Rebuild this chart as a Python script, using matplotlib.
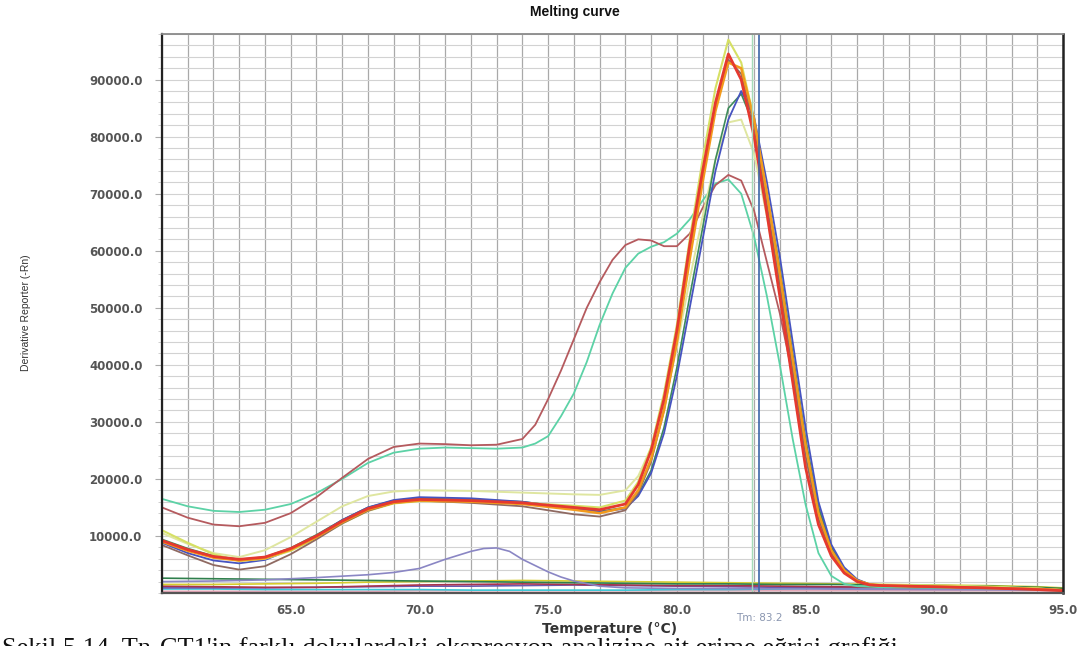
import matplotlib
matplotlib.use("Agg")
import matplotlib.pyplot as plt
from matplotlib.ticker import MultipleLocator

# ---------- data ----------
T_A = [60, 61, 62, 63, 64, 65, 66, 67, 68, 69, 70, 72, 74, 76, 77, 78, 78.5, 79, 79.5, 80,
       80.5, 81, 81.5, 82, 82.5, 83, 83.5, 84, 84.5, 85, 85.5, 86, 86.5, 87, 87.5, 88, 90, 92, 94, 95]

red_a = [9200, 7600, 6400, 5900, 6300, 7800, 10000, 12600, 14800, 16000, 16400, 16200, 15800, 15000, 14600,
         15600, 19000, 25000, 34000, 46000, 61000, 74000, 86000, 94500, 90000, 80000, 66500, 52000, 37000,
         22000, 12000, 6500, 3500, 2000, 1400, 1300, 1100, 900, 600, 400]
orange_a = [9000, 7400, 6200, 5700, 6100, 7600, 9800, 12400, 14600, 15800, 16200, 16000, 15600, 14600, 14000,
            15000, 18000, 23500, 32000, 44000, 58500, 72000, 84500, 93000, 92000, 83000, 70000, 56000, 41000,
            26000, 14000, 7500, 4000, 2200, 1500, 1300, 1100, 900, 700, 500]
brown_a = [8400, 6600, 4900, 4100, 4700, 6800, 9400, 12200, 14400, 15800, 16200, 15800, 15200, 13800, 13400,
           14500, 17500, 23000, 32000, 44000, 59000, 72500, 85000, 93500, 91000, 82000, 68000, 54000, 39000,
           24000, 13000, 7000, 3800, 2100, 1400, 1300, 1100, 900, 700, 500]
lime_a = [11000, 8800, 6800, 5600, 6000, 7400, 9600, 12200, 14400, 15700, 16100, 16000, 15800, 15300, 15000,
          16200, 19500, 25500, 35000, 47000, 62000, 76000, 88500, 97000, 93000, 83000, 69000, 55000, 40000,
          25000, 13500, 7200, 3800, 2100, 1500, 1400, 1300, 1100, 800, 500]
pale_a = [10500, 8600, 7000, 6300, 7500, 9800, 12500, 15200, 17000, 17800, 18000, 17900, 17600, 17300, 17200,
          18000, 20500, 25500, 33000, 43000, 55000, 66000, 76000, 82500, 83000, 77000, 66000, 53000, 39000,
          25000, 14000, 7500, 4000, 2200, 1500, 1400, 1300, 1100, 800, 500]
blue_a = [8800, 7000, 5700, 5200, 5800, 7600, 10000, 12800, 15000, 16300, 16800, 16600, 16000, 14800, 14200,
          14800, 17000, 21000, 28000, 38000, 50000, 62000, 74000, 83000, 88000, 83500, 72000, 59000, 44000,
          29000, 16000, 8500, 4500, 2400, 1500, 1300, 1100, 900, 700, 500]
green_a = [9400, 7800, 6500, 5900, 6300, 7900, 10200, 12800, 15000, 16200, 16600, 16400, 16000, 14900, 14300,
           15000, 17200, 21500, 29000, 39500, 52000, 64000, 76000, 85000, 87500, 82000, 70000, 57000, 42000,
           27000, 15000, 8000, 4300, 2300, 1500, 1300, 1100, 900, 700, 500]

T_B = [60, 61, 62, 63, 64, 65, 66, 67, 68, 69, 70, 71, 72, 73, 74, 74.5, 75, 75.5, 76, 76.5, 77, 77.5, 78,
       78.5, 79, 79.5, 80, 80.5, 81, 81.5, 82, 82.5, 83, 83.5, 84, 84.5, 85, 85.5, 86, 86.5, 87, 87.5, 88,
       90, 92, 94, 95]
shoulder_red = [15000, 13200, 12000, 11700, 12300, 14000, 16800, 20200, 23500, 25600, 26200, 26100, 25900,
                26000, 27000, 29500, 34000, 39000, 44500, 50000, 54500, 58400, 61000, 62000, 61800, 60800,
                60800, 63000, 67500, 71500, 73300, 72300, 67000, 58000, 49000, 38000, 26000, 15000, 8000,
                4000, 2200, 1500, 1300, 1100, 900, 700, 500]
shoulder_green = [16500, 15200, 14400, 14200, 14600, 15600, 17500, 20000, 22800, 24600, 25300, 25500, 25400,
                  25300, 25500, 26200, 27500, 31000, 35000, 40500, 47000, 52500, 57000, 59500, 60700, 61500,
                  63000, 65500, 68800, 71800, 72500, 70000, 62500, 52000, 40000, 27000, 15500, 7000, 3000,
                  1600, 1200, 1100, 1000, 900, 800, 600, 400]

T_C = [60, 62, 64, 66, 68, 70, 72, 74, 76, 78, 80, 82, 84, 86, 88, 90, 92, 94, 95]
flat_green = [2600, 2500, 2400, 2300, 2200, 2100, 2000, 1900, 1800, 1700, 1600, 1600, 1500, 1500, 1400, 1300, 1200, 1000, 800]
flat_yellow = [1500, 1500, 1600, 1700, 1900, 2000, 2100, 2200, 2100, 2000, 1900, 1800, 1700, 1600, 1500, 1400, 1300, 1100, 900]
flat_maroon = [1200, 1100, 1000, 1000, 1200, 1400, 1500, 1600, 1500, 1400, 1300, 1300, 1200, 1100, 1000, 900, 800, 700, 600]
flat_cyan = [700, 700, 600, 600, 600, 600, 500, 500, 500, 500, 600, 600, 700, 900, 1000, 900, 800, 700, 600]
flat_purple = [900, 900, 900, 1000, 1100, 1200, 1200, 1300, 1400, 1300, 1200, 1100, 1000, 900, 900, 900, 800, 700, 600]
flat_pink = [300, 300, 300, 300, 300, 400, 400, 400, 400, 400, 400, 400, 400, 400, 400, 400, 400, 400, 300]

T_P = [60, 62, 64, 66, 68, 69, 70, 71, 72, 72.5, 73, 73.5, 74, 74.5, 75, 75.5, 76, 77, 78, 80, 85, 90, 95]
bump_lavender = [2000, 2100, 2300, 2700, 3200, 3600, 4300, 5900, 7300, 7800, 7900, 7300, 5900, 4800, 3700,
                 2800, 2100, 1200, 900, 800, 700, 600, 500]

TM = 83.2
TM_ALT = 82.9
X_TICKS = [65, 70, 75, 80, 85, 90, 95]
Y_TICKS = [10000, 20000, 30000, 40000, 50000, 60000, 70000, 80000, 90000]

# ---------- figure ----------
fig = plt.figure(figsize=(10.9, 6.46), dpi=100)
ax = fig.add_axes([162/1090, 1-593/646, 901/1090, 559/646])
ax.set_xlim(60, 95)
ax.set_ylim(0, 98000)

# grid: dense horizontal, 1 degree vertical
ax.yaxis.set_minor_locator(MultipleLocator(2000))
ax.xaxis.set_minor_locator(MultipleLocator(1))
ax.grid(which="both", axis="y", color="#d2d2d2", lw=0.8)
ax.grid(which="both", axis="x", color="#a9a9a9", lw=0.9)
ax.set_axisbelow(True)

flats = [(flat_pink, "#e4a8b8"), (flat_cyan, "#3cc8d8"), (flat_purple, "#6a58b0"),
         (flat_maroon, "#a8344c"), (flat_yellow, "#d6cc2c"), (flat_green, "#2f7f4c")]
for vals, col in flats:
    ax.plot(T_C, vals, color=col, lw=1.2)
ax.plot(T_P, bump_lavender, color="#8a86c4", lw=1.2)

ax.plot(T_B, shoulder_green, color="#5cd2a6", lw=1.3)
ax.plot(T_B, shoulder_red, color="#b55a5e", lw=1.3)

ax.plot(T_A, pale_a, color="#dfe6a0", lw=1.4)
ax.plot(T_A, green_a, color="#3d8b5a", lw=1.2)
ax.plot(T_A, blue_a, color="#4653c0", lw=1.3)
ax.plot(T_A, lime_a, color="#d6e064", lw=1.5)
ax.plot(T_A, brown_a, color="#8f6a62", lw=1.3)
ax.plot(T_A, orange_a, color="#f29a1c", lw=1.8)
ax.plot(T_A, red_a, color="#e5392f", lw=2.0)

ax.axvline(TM_ALT, color="#a6dcb8", lw=1.0)
ax.axvline(TM, color="#3c66a8", lw=1.2)

# spines
for side, col, lw in [("left", "#222222", 1.6), ("bottom", "#555555", 1.6),
                      ("right", "#222222", 1.8), ("top", "#8a8a8a", 1.3)]:
    ax.spines[side].set_color(col)
    ax.spines[side].set_linewidth(lw)

ax.set_xticks(X_TICKS)
ax.set_xticklabels([f"{v:.1f}" for v in X_TICKS])
ax.set_yticks(Y_TICKS)
ax.set_yticklabels([f"{v:.1f}" for v in Y_TICKS])
ax.tick_params(axis="x", which="both", length=0, pad=8, labelsize=8.5, labelcolor="#555555")
ax.tick_params(axis="y", which="major", length=5, width=0.8, color="#aaaaaa", pad=9,
               labelsize=8.5, labelcolor="#555555")
ax.tick_params(axis="y", which="minor", length=3, width=0.6, color="#c8c8c8")
for lab in ax.get_xticklabels() + ax.get_yticklabels():
    lab.set_fontweight("bold")

ax.set_xlabel("Temperature (\u00b0C)", fontsize=10, fontweight="bold", color="#333333")
ax.xaxis.set_label_coords((610-162)/901, -(622-593)/559)
ax.text(TM, -0.045, "Tm: 83.2", transform=ax.get_xaxis_transform(), ha="center", va="center",
        fontsize=7.5, color="#8a96b0")

fig.text(26/1090, 1-313/646, "Derivative Reporter (-Rn)", rotation=90, ha="center", va="center",
         fontsize=7.5, color="#333333", family=["Liberation Sans Narrow", "Liberation Sans"])
fig.text(575/1090, 1-12/646, "Melting curve", ha="center", va="center", fontsize=10,
         fontweight="bold", family="Liberation Sans", color="#111111")

# caption, cut off by the lower edge as in the source
fig.text(2/1090, -9/646,
         "\u015eekil 5.14. Tn-CT1'in farkl\u0131 dokulardaki ekspresyon analizine ait erime e\u011frisi grafi\u011fi",
         ha="left", va="baseline", fontsize=19, family="Liberation Serif", color="#111111")

fig.savefig("out.png", dpi=100, facecolor="white")
